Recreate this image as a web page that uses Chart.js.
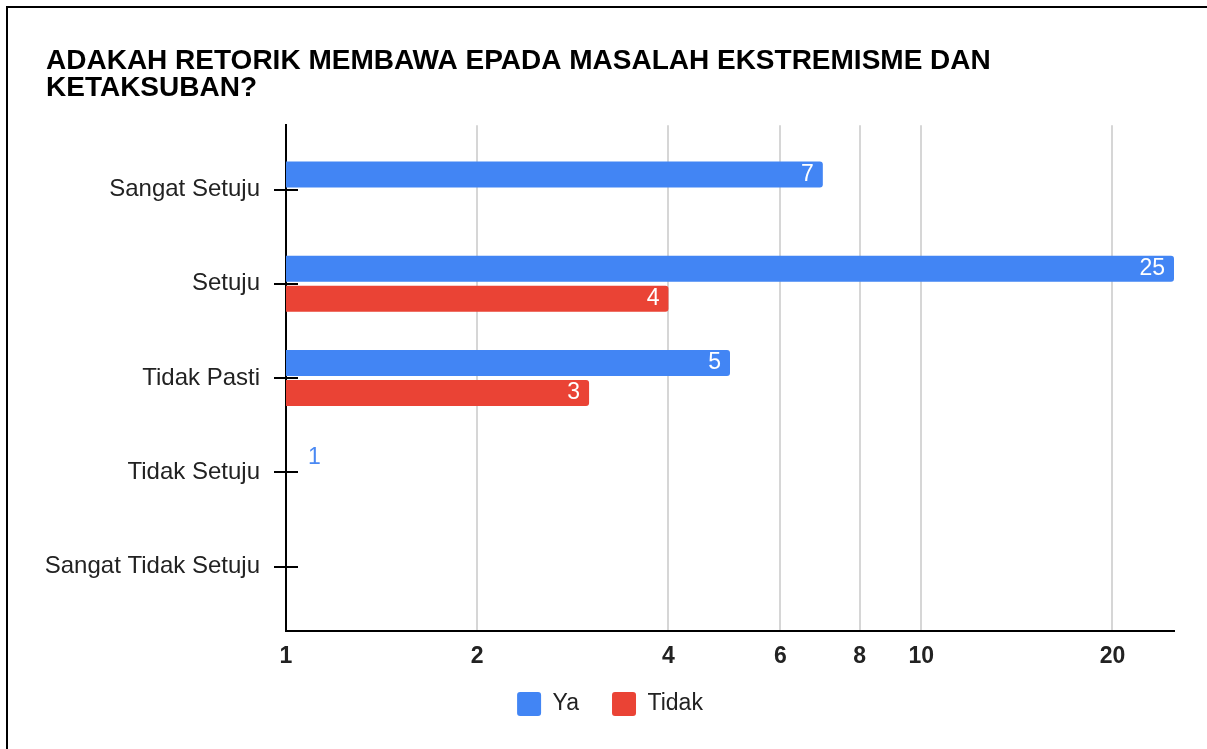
<!DOCTYPE html>
<html>
<head>
<meta charset="utf-8">
<script src="https://cdn.jsdelivr.net/npm/chart.js@4/dist/chart.umd.min.js"></script>
<style>
  html, body { margin: 0; padding: 0; background: #fff; overflow: hidden; }
  #wrap { position: relative; width: 1207px; height: 749px; }
  #frame { position: absolute; left: 6px; top: 6px; width: 1300px; height: 900px; border: 2px solid #000; pointer-events: none; }
</style>
</head>
<body>
<div id="wrap">
  <canvas id="c" width="1207" height="749"></canvas>
  <div id="frame"></div>
</div>
<script>
const titleLines = ['ADAKAH RETORIK MEMBAWA EPADA MASALAH EKSTREMISME DAN', 'KETAKSUBAN?'];
const categories = ['Sangat Setuju', 'Setuju', 'Tidak Pasti', 'Tidak Setuju', 'Sangat Tidak Setuju'];
const yaValues = [7, 25, 5, 1, null];
const tidakValues = [null, 4, 3, null, null];
const xTickValues = [1, 2, 4, 6, 8, 10, 20];
const seriesNames = ['Ya', 'Tidak'];

const FONT = '"Liberation Sans", Arial, sans-serif';

function toPoints(values) {
  return categories.map((c, i) => ({ y: i, x: values[i] }));
}

const barLabels = {
  id: 'barLabels',
  afterDatasetsDraw(chart) {
    const ctx = chart.ctx;
    ctx.save();
    ctx.font = '23px ' + FONT;
    ctx.textBaseline = 'middle';
    chart.data.datasets.forEach((ds, di) => {
      const meta = chart.getDatasetMeta(di);
      if (meta.hidden) return;
      meta.data.forEach((el, i) => {
        const v = ds.data[i].x;
        if (v === null || v === undefined) return;
        const txt = String(v);
        const w = ctx.measureText(txt).width;
        const len = el.x - el.base;
        if (len > w + 16) {
          ctx.fillStyle = '#ffffff';
          ctx.textAlign = 'right';
          ctx.fillText(txt, el.x - 9, el.y);
        } else {
          ctx.fillStyle = ds.labelOutsideColor;
          ctx.textAlign = 'left';
          ctx.fillText(txt, el.x + 22, el.y);
        }
      });
    });
    ctx.restore();
  }
};

const yTickMarks = {
  id: 'yTickMarks',
  beforeDraw(chart) {
    // let the x-axis tick labels draw below the (compact) axis box without clipping
    chart.scales.x._computeLabelArea = () => undefined;
  },
  afterDatasetsDraw(chart) {
    const ctx = chart.ctx;
    const ys = chart.scales.y;
    const left = chart.chartArea.left;
    ctx.save();
    ctx.strokeStyle = '#000';
    ctx.lineWidth = 2;
    ys.ticks.forEach(t => {
      const p = Math.round(ys.getPixelForValue(t.value));
      ctx.beginPath();
      ctx.moveTo(left - 12, p);
      ctx.lineTo(left + 12, p);
      ctx.stroke();
    });
    ctx.restore();
  }
};

new Chart(document.getElementById('c'), {
  type: 'bar',
  data: {
    datasets: [
      {
        label: seriesNames[0],
        data: toPoints(yaValues),
        backgroundColor: '#4285F4',
        labelOutsideColor: '#4a89f3',
        borderRadius: 3,
        borderSkipped: 'start',
        categoryPercentage: 0.636,
        barPercentage: 0.867
      },
      {
        label: seriesNames[1],
        data: toPoints(tidakValues),
        backgroundColor: '#EA4335',
        labelOutsideColor: '#EA4335',
        borderRadius: 3,
        borderSkipped: 'start',
        categoryPercentage: 0.636,
        barPercentage: 0.867
      }
    ]
  },
  options: {
    indexAxis: 'y',
    responsive: false,
    animation: false,
    devicePixelRatio: 1,
    layout: { padding: { left: 46, right: 33, top: 0, bottom: 23 } },
    scales: {
      x: {
        type: 'logarithmic',
        min: 1,
        max: 25,
        offset: false,
        afterBuildTicks: (s) => { s.ticks = xTickValues.map(v => ({ value: v })); },
        afterFit: (s) => { s.height = 28; },
        ticks: {
          autoSkip: false,
          maxRotation: 0,
          padding: 12,
          color: '#222',
          font: { family: FONT, size: 23, weight: 'bold' },
          callback: (v) => String(v)
        },
        grid: {
          drawTicks: false,
          lineWidth: 2,
          color: (c) => (c.tick && c.tick.value === 1) ? 'rgba(0,0,0,0)' : '#d6d6d6'
        },
        border: { color: '#000', width: 2 }
      },
      y: {
        type: 'linear',
        reverse: true,
        offset: false,
        min: -0.683,
        max: 4.683,
        afterBuildTicks: (s) => { s.ticks = categories.map((c, i) => ({ value: i })); },
        afterFit: (s) => { s.width = 240; },
        ticks: {
          padding: 26,
          color: '#222',
          font: { family: FONT, size: 24 },
          callback: (v) => categories[v]
        },
        grid: { drawOnChartArea: false, drawTicks: false, offset: false },
        border: { color: '#000', width: 2 }
      }
    },
    plugins: {
      title: {
        display: true,
        text: titleLines,
        align: 'start',
        color: '#000',
        font: { family: FONT, size: 28, weight: 'bold', lineHeight: 0.95 },
        padding: { top: 48, bottom: 24 }
      },
      legend: {
        position: 'bottom',
        align: 'center',
        labels: {
          boxWidth: 24,
          boxHeight: 24,
          useBorderRadius: true,
          borderRadius: 3,
          padding: 33,
          color: '#222',
          font: { family: FONT, size: 23 }
        }
      },
      tooltip: { enabled: false }
    }
  },
  plugins: [barLabels, yTickMarks]
});
</script>
</body>
</html>
